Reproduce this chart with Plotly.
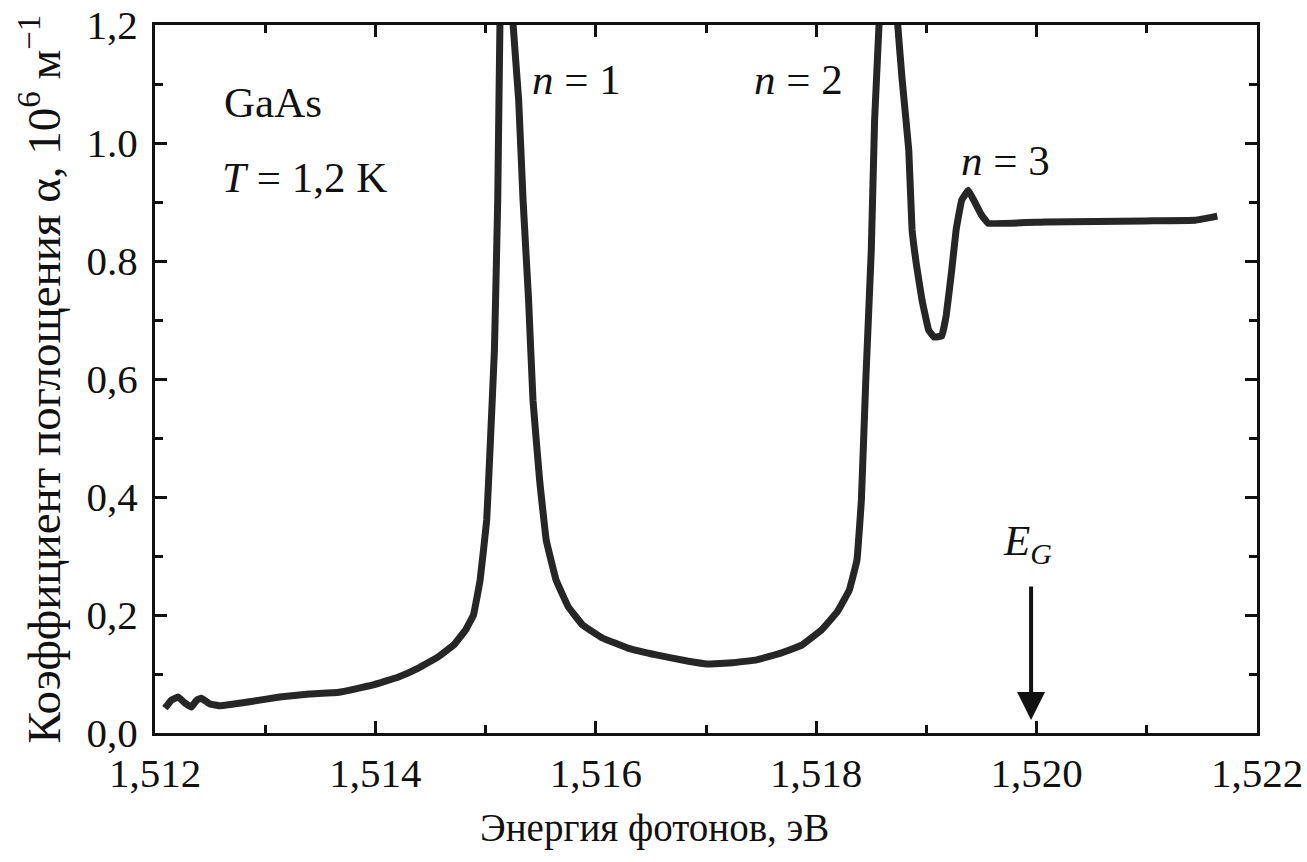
import plotly.graph_objects as go

# Photon energy, eV
energy = [1.51209, 1.51215, 1.51221, 1.51227, 1.51233, 1.51238, 1.51242, 1.51250,
          1.51259, 1.51286, 1.51313, 1.51340, 1.51367, 1.51397, 1.51421, 1.51439,
          1.51457, 1.51471, 1.51482, 1.51489, 1.51495, 1.51501, 1.51504, 1.51508,
          1.51511, 1.51513, 1.51519, 1.51525, 1.51530, 1.51534, 1.51539, 1.51543,
          1.51549, 1.51555, 1.51564, 1.51575, 1.51588, 1.51606, 1.51629, 1.51656,
          1.51683, 1.51701, 1.51724, 1.51746, 1.51769, 1.51787, 1.51805, 1.51819,
          1.51830, 1.51837, 1.51841, 1.51845, 1.51850, 1.51853, 1.51857, 1.51866,
          1.51874, 1.51878, 1.51884, 1.51887, 1.51891, 1.51896, 1.51902, 1.51907,
          1.51914, 1.51918, 1.51923, 1.51927, 1.51932, 1.51938, 1.51943, 1.51950,
          1.51956, 1.52008, 1.52099, 1.52144, 1.52164]
# Absorption coefficient alpha, 10^6 m^-1
alpha = [0.042, 0.056, 0.061, 0.051, 0.044, 0.056, 0.059, 0.049,
         0.046, 0.053, 0.061, 0.066, 0.069, 0.081, 0.095, 0.110,
         0.129, 0.149, 0.175, 0.200, 0.259, 0.361, 0.480, 0.649,
         0.903, 1.200, 1.600, 1.200, 1.073, 0.903, 0.734, 0.564,
         0.429, 0.327, 0.259, 0.214, 0.183, 0.161, 0.144, 0.132,
         0.122, 0.117, 0.119, 0.124, 0.136, 0.149, 0.175, 0.205,
         0.242, 0.293, 0.395, 0.598, 0.819, 1.039, 1.200, 1.600,
         1.200, 1.107, 0.988, 0.853, 0.793, 0.734, 0.683, 0.671,
         0.673, 0.708, 0.785, 0.853, 0.903, 0.920, 0.903, 0.878,
         0.864, 0.866, 0.868, 0.869, 0.876]

x_tickvals = [1.512, 1.514, 1.516, 1.518, 1.520, 1.522]
x_ticktext = ["1,512", "1,514", "1,516", "1,518", "1,520", "1,522"]
y_tickvals = [0.0, 0.2, 0.4, 0.6, 0.8, 1.0, 1.2]
y_ticktext = ["0,0", "0,2", "0,4", "0,6", "0.8", "1.0", "1,2"]

FONT = "Liberation Serif, Times New Roman, serif"
INK = "#111111"

fig = go.Figure()
fig.add_trace(go.Scatter(x=energy, y=alpha, mode="lines",
                         line=dict(color="#262626", width=7, shape="spline", smoothing=0.2),
                         showlegend=False, hoverinfo="skip"))

axis_common = dict(showgrid=False, zeroline=False, showline=True, linecolor=INK,
                   linewidth=3, mirror="allticks", ticks="inside", tickcolor=INK,
                   tickwidth=3, ticklen=12, automargin=False,
                   ticklabeloverflow="allow",
                   tickfont=dict(family=FONT, size=41, color=INK))

fig.update_xaxes(range=[1.512, 1.522], tickmode="array", tickvals=x_tickvals,
                 ticktext=x_ticktext, ticklabelstandoff=2,
                 minor=dict(tickmode="linear", tick0=1.512, dtick=0.001, ticks="inside",
                            ticklen=8, tickwidth=3, tickcolor=INK),
                 **axis_common)
fig.update_yaxes(range=[0, 1.2], tickmode="array", tickvals=y_tickvals,
                 ticktext=y_ticktext, ticklabelstandoff=6,
                 minor=dict(tickmode="linear", tick0=0, dtick=0.1, ticks="inside",
                            ticklen=8, tickwidth=3, tickcolor=INK),
                 **axis_common)

ann_font = dict(family=FONT, size=43, color=INK)
annotations = [
    dict(x=1.51261, y=1.068, text="GaAs", xanchor="left", yanchor="middle"),
    dict(x=1.51259, y=0.941, text="<i>T</i> = 1,2 K", xanchor="left", yanchor="middle"),
    dict(x=1.51540, y=1.107, text="<i>n</i> = 1", xanchor="left", yanchor="middle"),
    dict(x=1.51742, y=1.107, text="<i>n</i> = 2", xanchor="left", yanchor="middle"),
    dict(x=1.51930, y=0.971, text="<i>n</i> = 3", xanchor="left", yanchor="middle"),
    dict(x=1.51968, y=0.32, text="<i>E</i><sub><i>G</i></sub>", xanchor="left", yanchor="middle"),
]
for a in annotations:
    fig.add_annotation(xref="x", yref="y", showarrow=False, font=ann_font, **a)

# E_G arrow
fig.add_annotation(xref="x", yref="y", axref="x", ayref="y",
                   x=1.51995, y=0.022, ax=1.51995, ay=0.251,
                   showarrow=True, arrowhead=2, arrowsize=1.4, arrowwidth=4,
                   arrowcolor=INK, text="")

# Axis titles
fig.add_annotation(xref="paper", yref="paper", x=0.4535, y=-0.134,
                   text="Энергия фотонов, эВ", showarrow=False,
                   xanchor="center", yanchor="middle",
                   font=dict(family=FONT, size=39, color=INK))
fig.add_annotation(xref="paper", yref="paper", x=-0.104, y=0.5,
                   text="Коэффициент поглощения α, 10<sup>6</sup> м<sup>−1</sup>",
                   textangle=-90, showarrow=False,
                   xanchor="center", yanchor="middle",
                   font=dict(family=FONT, size=47, color=INK))

fig.update_layout(width=1307, height=862, margin=dict(l=155, r=50, t=25, b=129),
                  font=dict(family=FONT, color=INK),
                  paper_bgcolor="white", plot_bgcolor="white")

fig.write_html("out.html")
